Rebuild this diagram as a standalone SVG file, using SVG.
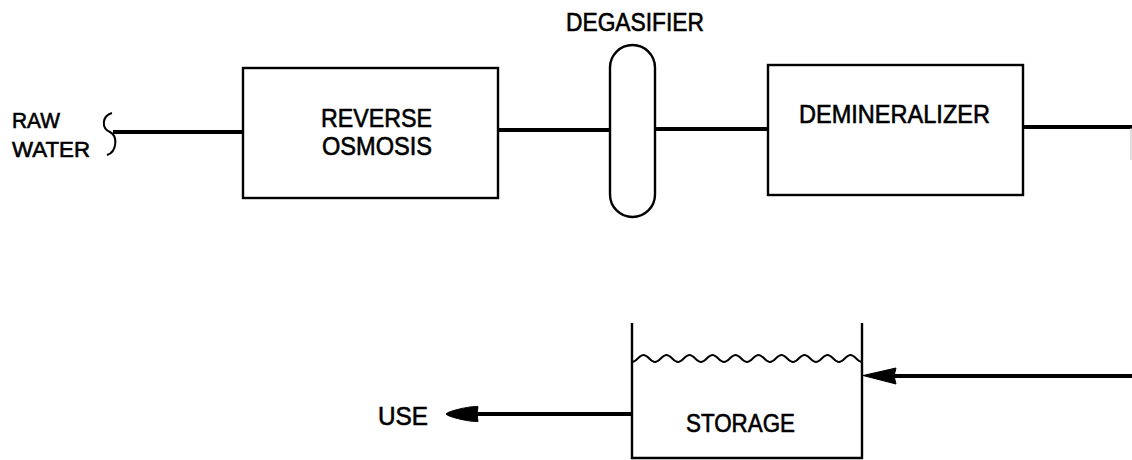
<svg xmlns="http://www.w3.org/2000/svg" width="1132" height="460" viewBox="0 0 1132 460">
<style>
.box{fill:none;stroke:#000;stroke-width:2.4}
.pipe{fill:none;stroke:#000;stroke-width:4}
.thin{fill:none;stroke:#000;stroke-width:2}
.lbl{font-family:"Liberation Sans",Arial,sans-serif;font-size:25px;fill:#000;stroke:#000;stroke-width:0.6}
.sm{font-size:22px}
.head{fill:#000;stroke:#000;stroke-width:1;stroke-linejoin:round}
</style>
<rect width="1132" height="460" fill="#fff"/>
<g id="raw-water">
<text class="lbl sm" x="12" y="128" textLength="48" lengthAdjust="spacingAndGlyphs">RAW</text>
<text class="lbl sm" x="12" y="157" textLength="78" lengthAdjust="spacingAndGlyphs">WATER</text>
<path class="thin" d="M112,113 C102,116 101,128 110,132 C118,136 117,152 107,155"/>
</g>
<g id="reverse-osmosis">
<rect class="box" x="243" y="68" width="255" height="130"/>
<text class="lbl" x="321" y="127" textLength="111" lengthAdjust="spacingAndGlyphs">REVERSE</text>
<text class="lbl" x="322" y="155" textLength="110" lengthAdjust="spacingAndGlyphs">OSMOSIS</text>
</g>
<g id="degasifier">
<text class="lbl" x="566" y="31" textLength="138" lengthAdjust="spacingAndGlyphs">DEGASIFIER</text>
<rect class="box" x="610" y="45" width="45" height="172" rx="22.5" ry="22.5"/>
</g>
<g id="demineralizer">
<rect class="box" x="768" y="65" width="255" height="130"/>
<text class="lbl" x="799" y="123" textLength="191" lengthAdjust="spacingAndGlyphs">DEMINERALIZER</text>
</g>
<g id="storage">
<path class="box" d="M632,323 V458 H862 V323"/>
<path class="thin" stroke-width="1.8" d="M632,362 c4.14,0 7.36,-7 11.5,-7 s7.36,7 11.5,7 s7.36,-7 11.5,-7 s7.36,7 11.5,7 s7.36,-7 11.5,-7 s7.36,7 11.5,7 s7.36,-7 11.5,-7 s7.36,7 11.5,7 s7.36,-7 11.5,-7 s7.36,7 11.5,7 s7.36,-7 11.5,-7 s7.36,7 11.5,7 s7.36,-7 11.5,-7 s7.36,7 11.5,7 s7.36,-7 11.5,-7 s7.36,7 11.5,7 s7.36,-7 11.5,-7 s7.36,7 11.5,7 s7.36,-7 11.5,-7 s7.36,7 11.5,7"/>
<text class="lbl" x="686" y="432" textLength="109" lengthAdjust="spacingAndGlyphs">STORAGE</text>
</g>
<g id="use">
<text class="lbl" x="378" y="425" textLength="50" lengthAdjust="spacingAndGlyphs">USE</text>
</g>
<g id="connectors">
<line class="pipe" x1="113" y1="132" x2="244" y2="132"/>
<line class="pipe" x1="498" y1="130" x2="611" y2="130"/>
<line class="pipe" x1="655" y1="129" x2="768" y2="129"/>
<line class="pipe" x1="1023" y1="127" x2="1132" y2="127"/>
<line x1="1131" y1="128" x2="1131" y2="160" stroke="#bbb" stroke-width="1"/>
<line class="pipe" x1="892" y1="376" x2="1132" y2="376"/>
<path class="head" d="M863,375.5 L896,368 L894,376 L896,384 Z"/>
<line class="pipe" x1="476" y1="414" x2="633" y2="414"/>
<path class="head" d="M446,414 C448,411 470,406 478,406.5 L477,414 L478,421.5 C470,422 448,417 446,414 Z"/>
</g>
</svg>
